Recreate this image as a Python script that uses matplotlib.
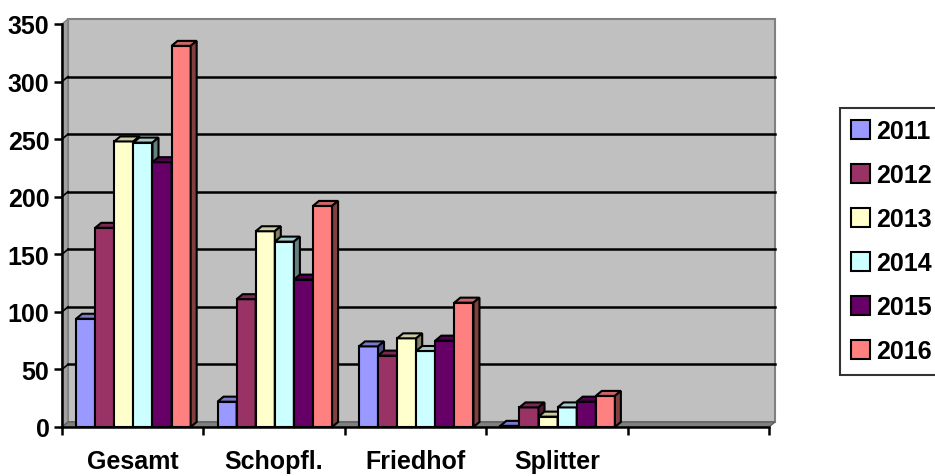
import matplotlib
matplotlib.use("Agg")
import matplotlib.pyplot as plt
from matplotlib.patches import Polygon, Rectangle
from matplotlib.colors import to_rgb

plt.rcParams['font.family'] = ['Liberation Sans', 'DejaVu Sans']

categories = ["Gesamt", "Schopfl.", "Friedhof", "Splitter", ""]
years = ["2011", "2012", "2013", "2014", "2015", "2016"]
colors = ["#9999FF", "#993366", "#FFFFCC", "#CCFFFF", "#660066", "#FF8080"]

# one list per year, order = Gesamt, Schopfl., Friedhof, Splitter
v2011 = [94, 22, 70, 1]
v2012 = [173, 111, 62, 17]
v2013 = [248, 170, 77, 9]
v2014 = [247, 161, 66, 17]
v2015 = [230, 128, 75, 22]
v2016 = [331, 192, 108, 27]
series = [v2011, v2012, v2013, v2014, v2015, v2016]

yticks = [0, 50, 100, 150, 200, 250, 300, 350]

W, H = 935, 477
fig = plt.figure(figsize=(W / 100, H / 100), dpi=100)
ax_l, ax_b, ax_w, ax_h = 62, 49, 707, 403
ax = fig.add_axes([ax_l / W, ax_b / H, ax_w / W, ax_h / H])
ax.set_xlim(0, 5)
ax.set_ylim(0, 350)
ax.set_facecolor("none")

# depth of 3D effect in data units (6 px right, 5 px up)
dx = 6 / (ax_w / 5)
dy = 5 / (ax_h / 350)

wall = "#C0C0C0"
side_gray = "#808080"
# back wall
ax.add_patch(Rectangle((dx, dy), 5, 350, facecolor=wall, edgecolor=side_gray,
                       lw=1.5, clip_on=False, zorder=0))
# left wall
ax.add_patch(Polygon([(0, 0), (dx, dy), (dx, 350 + dy), (0, 350)], closed=True,
                     facecolor="#A0A0A0", edgecolor=side_gray, lw=1, clip_on=False, zorder=0.5))
# floor
ax.add_patch(Polygon([(0, 0), (5, 0), (5 + dx, dy), (dx, dy)], closed=True,
                     facecolor=side_gray, edgecolor="#606060", lw=1, clip_on=False, zorder=0.5))
# gridlines on back wall
for t in yticks[1:-1]:
    ax.plot([dx, 5 + dx], [t + dy, t + dy], color="black", lw=1.8, clip_on=False, zorder=1)
    ax.plot([0, dx], [t, t + dy], color="black", lw=1.2, clip_on=False, zorder=1)


def shade(c, f):
    r, g, b = to_rgb(c)
    return (r * f, g * f, b * f)


bw = 0.135
start = 0.1
z = 2
for ci in range(4):
    for si, vals in enumerate(series):
        x0 = ci + start + si * bw
        v = vals[ci]
        col = colors[si]
        ax.bar(x0, v, width=bw, align="edge", color=col, edgecolor="black",
               lw=1.5, zorder=z, clip_on=False)
        # top face
        ax.add_patch(Polygon([(x0, v), (x0 + bw, v), (x0 + bw + dx, v + dy), (x0 + dx, v + dy)],
                             closed=True, facecolor=shade(col, 0.8), edgecolor="black",
                             lw=1.5, zorder=z, clip_on=False))
        # side face
        ax.add_patch(Polygon([(x0 + bw, 0), (x0 + bw + dx, dy), (x0 + bw + dx, v + dy), (x0 + bw, v)],
                             closed=True, facecolor=shade(col, 0.5), edgecolor="black",
                             lw=1.5, zorder=z, clip_on=False))
        z += 1

for s in ["top", "right"]:
    ax.spines[s].set_visible(False)
ax.spines["left"].set_linewidth(1.8)
ax.spines["bottom"].set_linewidth(1.8)
ax.spines["left"].set_zorder(50)
ax.spines["bottom"].set_zorder(50)

ax.set_yticks(yticks)
ax.set_yticklabels([str(t) for t in yticks], fontsize=18, fontweight="bold")
ax.tick_params(axis="y", length=6, width=1.8, pad=3)

ax.set_xticks(range(6))
ax.set_xticklabels([])
ax.set_xticks([i + 0.5 for i in range(5)], minor=True)
ax.set_xticklabels(categories, minor=True, fontsize=18, fontweight="bold")
ax.tick_params(axis="x", which="major", length=6, width=1.8, direction="out")
ax.tick_params(axis="x", which="minor", length=0, pad=16)

handles = [Rectangle((0, 0), 1, 1, facecolor=c, edgecolor="black", lw=1.5) for c in colors]
leg = fig.legend(handles, years, loc="upper left", bbox_to_anchor=(840 / W, 1 - 109 / H),
                 prop={"size": 18, "weight": "bold"}, frameon=True, fancybox=False,
                 edgecolor="black", handlelength=0.75, handleheight=0.75, handletextpad=0.25,
                 labelspacing=0.8, borderpad=0.45, borderaxespad=0)
leg.get_frame().set_linewidth(1.5)

fig.savefig("out.png", dpi=100)
